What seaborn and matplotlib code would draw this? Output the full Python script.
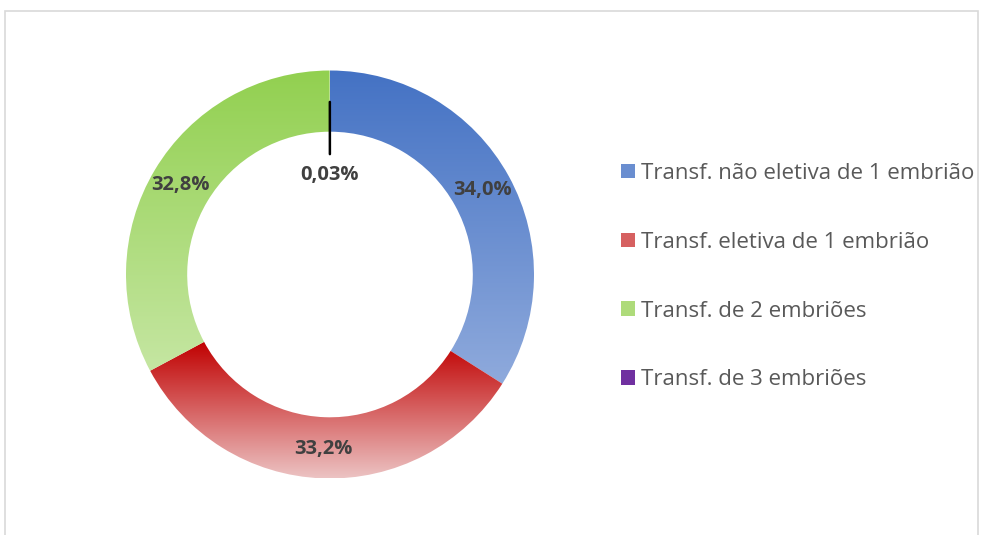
import matplotlib
matplotlib.use("Agg")
import matplotlib.pyplot as plt
import numpy as np
import seaborn as sns
from matplotlib.colors import to_rgb
from matplotlib.patches import Patch, Rectangle

categories = [
    "Transf. não eletiva de 1 embrião",
    "Transf. eletiva de 1 embrião",
    "Transf. de 2 embriões",
    "Transf. de 3 embriões",
]
shares = [34.0, 33.2, 32.8, 0.03]
pct_labels = ["34,0%", "33,2%", "32,8%", "0,03%"]
top_colors = ["#4472C4", "#C00000", "#92D050", "#7030A0"]
bottom_colors = ["#8FAADC", "#ECC3C3", "#C5E6A2", "#7030A0"]

sns.set_theme(style="white")
plt.rcParams["font.family"] = ["Open Sans", "DejaVu Sans"]

fig = plt.figure(figsize=(9.81, 5.35), dpi=100)
W, H = 981, 535
cx, cy, R = 330, 274.5, 204
ax = fig.add_axes([(cx - R) / W, (H - cy - R) / H, 2 * R / W, 2 * R / H])

wedges, _ = ax.pie(
    shares,
    startangle=90,
    counterclock=False,
    radius=1.0,
    wedgeprops=dict(width=0.3, edgecolor="none", linewidth=0),
)


def fill_gradient(wedge, c_top, c_bot):
    # vertical gradient over the wedge's bounding box, clipped to the wedge
    t1, t2 = np.radians(wedge.theta1), np.radians(wedge.theta2)
    th = np.linspace(t1, t2, 200)
    xs = np.concatenate([np.cos(th), 0.7 * np.cos(th)])
    ys = np.concatenate([np.sin(th), 0.7 * np.sin(th)])
    a, b = np.array(to_rgb(c_top)), np.array(to_rgb(c_bot))
    f = np.linspace(0, 1, 256)[:, None]
    img = (a * (1 - f) + b * f)[:, None, :]
    wedge.set_facecolor("none")
    im = ax.imshow(img, extent=(xs.min(), xs.max(), ys.min(), ys.max()),
                   origin="upper", aspect="auto", interpolation="bilinear", zorder=1)
    im.set_clip_path(wedge)


for w, ct, cb in zip(wedges, top_colors, bottom_colors):
    fill_gradient(w, ct, cb)

for w, lab, val in zip(wedges, pct_labels, shares):
    mid = np.radians((w.theta1 + w.theta2) / 2)
    if val < 1:
        ax.plot([0.846 * np.cos(mid), 0.59 * np.cos(mid)],
                [0.846 * np.sin(mid), 0.59 * np.sin(mid)],
                color="black", lw=1.8, zorder=3)
        r = 0.49
    else:
        r = 0.856
    ax.text(r * np.cos(mid), r * np.sin(mid), lab, ha="center", va="center",
            fontsize=14.5, fontweight="bold", color="#404040", zorder=4)

ax.set_xlim(-1, 1)
ax.set_ylim(-1, 1)
ax.axis("off")

handles = [Patch(facecolor=to_rgb(c), edgecolor="none") for c in
           ["#6A8ED0", "#D66060", "#AEDB7A", "#7030A0"]]
fig.legend(handles, categories, loc="upper left",
           bbox_to_anchor=(621 / W, 1 - 163 / H), frameon=False,
           prop={"size": 16},
           labelcolor="#595959", handlelength=0.63, handleheight=0.63,
           handletextpad=0.27, labelspacing=2.15, borderpad=0, borderaxespad=0)

fig.patches.append(Rectangle((5 / W, -0.01), 973 / W, 1.01 - 11 / H,
                             transform=fig.transFigure, fill=False,
                             edgecolor="#D9D9D9", linewidth=1.2))

fig.savefig("out.png", dpi=100)
